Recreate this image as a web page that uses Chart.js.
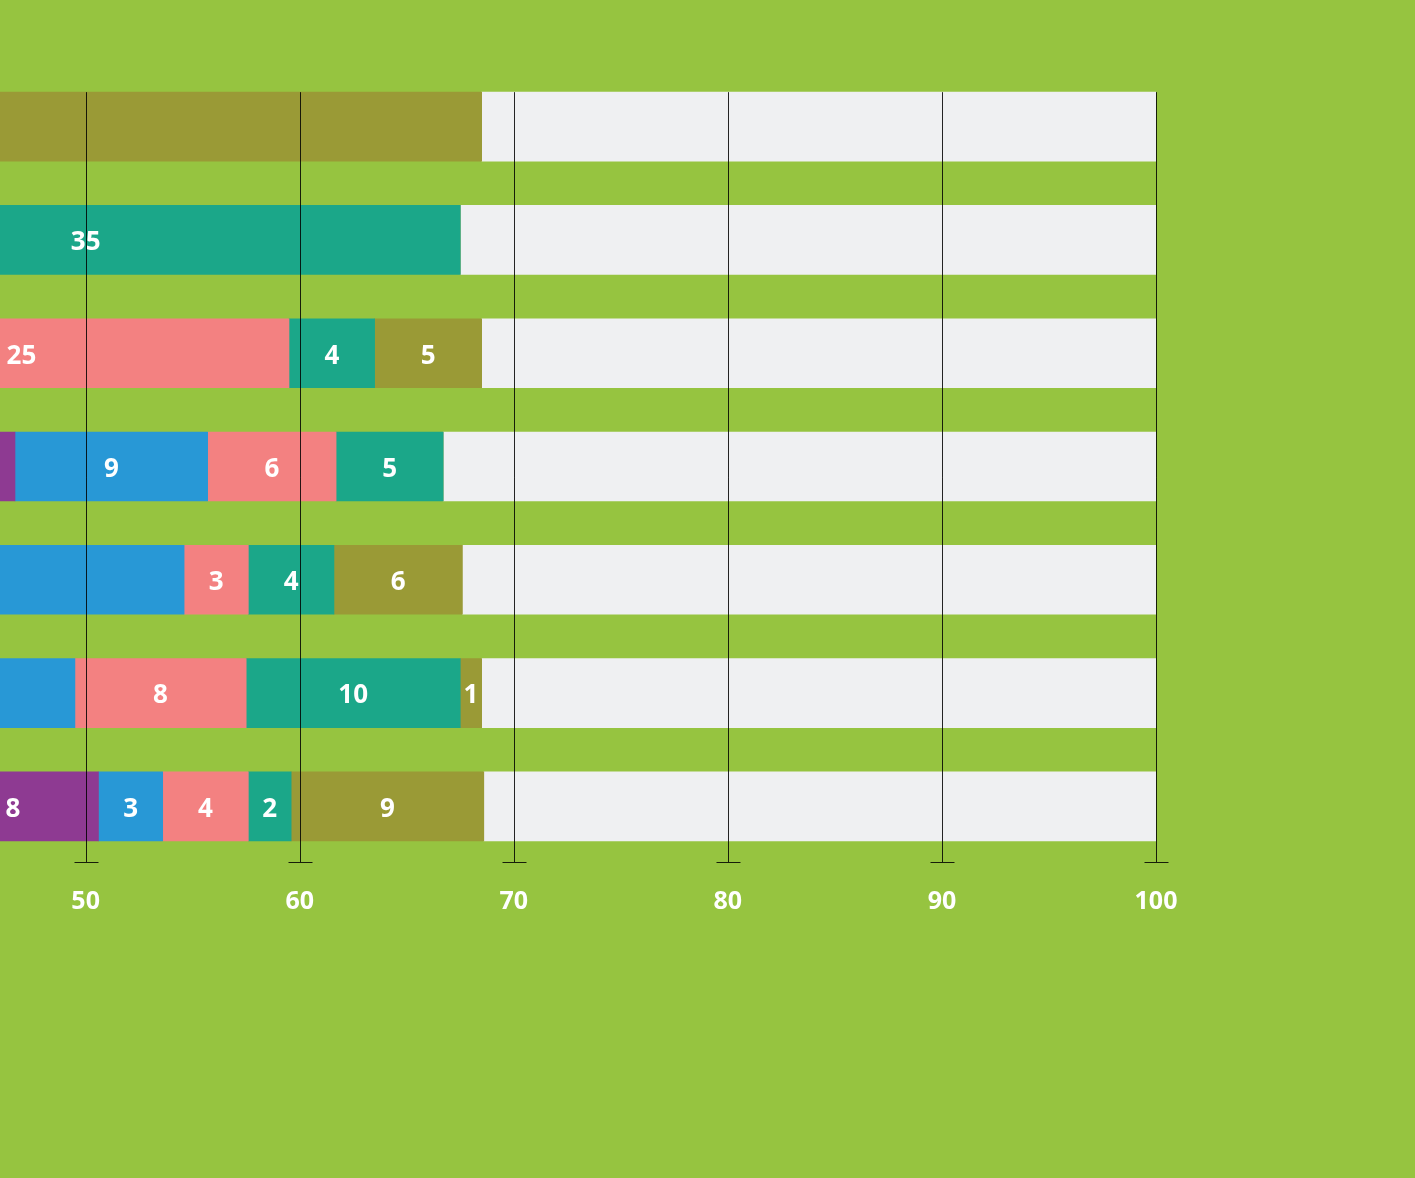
<!DOCTYPE html>
<html>
<head>
<meta charset="utf-8">
<script src="https://cdn.jsdelivr.net/npm/chart.js@4.4.0/dist/chart.umd.min.js"></script>
<style>
    html, body { margin: 0; padding: 0; background: #96c440; }
    #chart { display: block; }
</style>
</head>
<body>
<canvas id="chart" width="1415" height="1178"></canvas>
<script>
// rows from top to bottom (the left part of every bar is cut off in the picture)
const categories = ['A', 'B', 'C', 'D', 'E', 'F', 'G'];

// part of each bar that lies left of the visible area
const otherValues  = [0,    32.5, 34.5, 41.7, 34.6, 39.5, 42.6];
const purpleValues = [0,    0,    0,    5,    0,    0,    8];
const blueValues   = [0,    0,    0,    9,    20,   10,   3];
const pinkValues   = [0,    0,    25,   6,    3,    8,    4];
const tealValues   = [0,    35,   4,    5,    4,    10,   2];
const oliveValues  = [68.5, 0,    5,    0,    6,    1,    9];

const tickValues = [50, 60, 70, 80, 90, 100];
const axisMin = 46;
const axisMax = 100;

const restValues = categories.map((c, i) =>
    axisMax - otherValues[i] - purpleValues[i] - blueValues[i] - pinkValues[i] - tealValues[i] - oliveValues[i]);

const labelFont = 'bold 26px "Open Sans", "DejaVu Sans", sans-serif';

const labelPlugin = {
    id: 'segmentLabels',
    afterDatasetsDraw(chart) {
        const ctx = chart.ctx;
        const area = chart.chartArea;
        ctx.save();
        ctx.beginPath();
        ctx.rect(area.left, area.top, area.right - area.left, area.bottom - area.top);
        ctx.clip();
        ctx.font = labelFont;
        ctx.fillStyle = '#ffffff';
        ctx.textAlign = 'center';
        ctx.textBaseline = 'middle';
        chart.data.datasets.forEach((ds, di) => {
            if (!ds.showLabels) return;
            const meta = chart.getDatasetMeta(di);
            meta.data.forEach((bar, i) => {
                const value = ds.data[i];
                if (!value) return;
                const x = (bar.x + bar.base) / 2;
                ctx.fillText(String(value), x, bar.y + 3);
            });
        });
        ctx.restore();
    }
};

const gridPlugin = {
    id: 'gridOverlay',
    afterDatasetsDraw(chart) {
        const ctx = chart.ctx;
        const xScale = chart.scales.x;
        const firstBar = chart.getDatasetMeta(0).data[0];
        const top = firstBar.y - firstBar.height / 2;
        const bottom = chart.chartArea.bottom - 1;
        ctx.save();
        ctx.strokeStyle = 'rgba(0, 0, 0, 0.85)';
        ctx.lineWidth = 1;
        tickValues.forEach(v => {
            const x = Math.round(xScale.getPixelForValue(v)) + 0.5;
            ctx.beginPath();
            ctx.moveTo(x, top);
            ctx.lineTo(x, bottom);
            ctx.moveTo(x - 12, bottom + 0.5);
            ctx.lineTo(x + 12, bottom + 0.5);
            ctx.stroke();
        });
        ctx.restore();
    }
};

function makeSet(label, data, color, showLabels) {
    return {
        label: label,
        data: data,
        backgroundColor: color,
        borderWidth: 0,
        barThickness: 69,
        showLabels: showLabels
    };
}

const context = document.getElementById('chart').getContext('2d');

new Chart(context, {
    type: 'bar',
    data: {
        labels: categories,
        datasets: [
            makeSet('other', otherValues, '#9a9a36', false),
            makeSet('purple', purpleValues, '#8e3a92', true),
            makeSet('blue', blueValues, '#2898d6', true),
            makeSet('pink', pinkValues, '#f38181', true),
            makeSet('teal', tealValues, '#1ba789', true),
            makeSet('olive', oliveValues, '#9a9a36', true),
            makeSet('rest', restValues, '#eff0f2', false)
        ]
    },
    options: {
        indexAxis: 'y',
        responsive: false,
        animation: false,
        layout: {
            padding: { top: 70, left: 0, right: 259, bottom: 0 }
        },
        plugins: {
            legend: { display: false },
            tooltip: { enabled: false }
        },
        scales: {
            x: {
                stacked: true,
                min: axisMin,
                max: axisMax,
                afterBuildTicks: scale => {
                    scale.ticks = tickValues.map(v => ({ value: v }));
                },
                afterFit: scale => {
                    scale.height = 315;
                },
                grid: { display: false },
                border: { display: false },
                ticks: {
                    color: '#ffffff',
                    padding: 16,
                    maxRotation: 0,
                    font: { family: '"Open Sans", "DejaVu Sans", sans-serif', size: 25, weight: 'bold' }
                }
            },
            y: {
                stacked: true,
                afterFit: scale => {
                    scale.width = 0;
                },
                grid: { display: false },
                border: { display: false },
                ticks: { display: false }
            }
        }
    },
    plugins: [labelPlugin, gridPlugin]
});
</script>
</body>
</html>
